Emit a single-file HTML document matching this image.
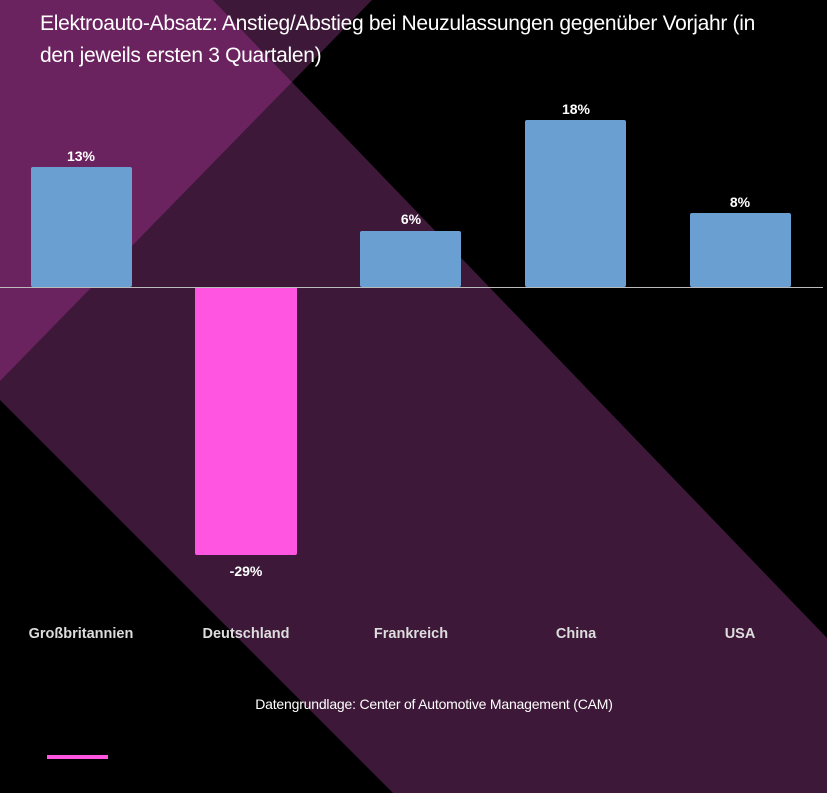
<!DOCTYPE html>
<html><head><meta charset="utf-8"><style>
body{margin:0;background:#000;}
#c{position:relative;width:827px;height:793px;overflow:hidden;font-family:"Liberation Sans",sans-serif;}
svg{position:absolute;left:0;top:0}
.t{position:absolute;left:40px;top:8px;width:735px;color:#fff;font-size:21px;line-height:32px;letter-spacing:-0.3px}
</style></head><body><div id="c">
<svg width="827" height="793">
<polygon points="0,0 213,0 827,638 827,793 393,793 0,400" fill="#3d1838"/>
<polygon points="0,0 213,0 292,82 0,381" fill="#6b2360"/>
<polygon points="213,0 372,0 292,82" fill="#3d1838"/>
<rect x="31" y="167" width="101" height="120" rx="2" fill="#6a9fd1"/>
<rect x="195" y="287" width="102" height="268" rx="2" fill="#ff55e0"/>
<rect x="360" y="231" width="101" height="56" rx="2" fill="#6a9fd1"/>
<rect x="525" y="120" width="101" height="167" rx="2" fill="#6a9fd1"/>
<rect x="690" y="213" width="101" height="74" rx="2" fill="#6a9fd1"/>
<line x1="0" y1="287.5" x2="823" y2="287.5" stroke="#bbb" stroke-width="1"/>
<g font-family="Liberation Sans,sans-serif" font-weight="bold" font-size="14" fill="#fff" text-anchor="middle">
<text x="81" y="161">13%</text>
<text x="246" y="576">-29%</text>
<text x="411" y="224">6%</text>
<text x="576" y="114">18%</text>
<text x="740" y="207">8%</text>
</g>
<g font-family="Liberation Sans,sans-serif" font-weight="bold" font-size="14.5" fill="#ddd" text-anchor="middle">
<text x="81" y="638">Großbritannien</text>
<text x="246" y="638">Deutschland</text>
<text x="411" y="638">Frankreich</text>
<text x="576" y="638">China</text>
<text x="740" y="638">USA</text>
</g>
<text x="434" y="709" font-family="Liberation Sans,sans-serif" font-size="14" fill="#fff" text-anchor="middle" letter-spacing="-0.2">Datengrundlage: Center of Automotive Management (CAM)</text>
<rect x="47" y="755" width="61" height="4" fill="#ff55e0"/>
</svg>
<div class="t">Elektroauto-Absatz: Anstieg/Abstieg bei Neuzulassungen gegenüber Vorjahr (in den jeweils ersten 3 Quartalen)</div>
</div></body></html>
